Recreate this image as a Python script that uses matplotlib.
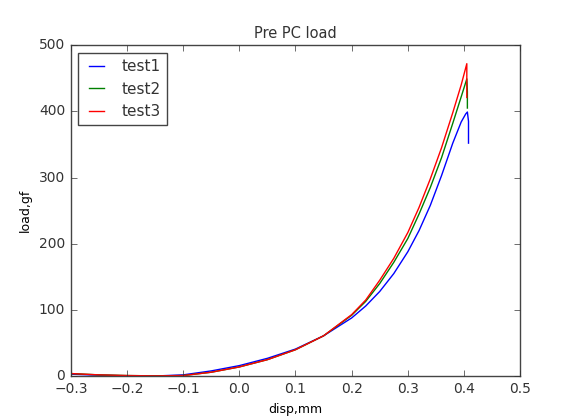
import matplotlib
matplotlib.use('Agg')
import matplotlib.pyplot as plt

# displacement (mm) / load (gf) for the three runs
disp1 = [-0.30, -0.25, -0.20, -0.15, -0.10, -0.05, 0.00, 0.05, 0.10, 0.15, 0.20,
         0.225, 0.25, 0.275, 0.30, 0.32, 0.34, 0.36, 0.38, 0.395, 0.403, 0.406, 0.408, 0.408]
load1 = [3, 1.5, 0.5, 0.3, 2, 8, 16, 27, 41, 61, 88,
         106, 128, 155, 188, 220, 258, 303, 352, 384, 396, 399, 385, 352]

disp2 = [-0.30, -0.25, -0.20, -0.15, -0.10, -0.05, 0.00, 0.05, 0.10, 0.15, 0.20,
         0.225, 0.25, 0.275, 0.30, 0.32, 0.34, 0.36, 0.38, 0.395, 0.405, 0.406, 0.406]
load2 = [4, 2, 1, 0.5, 1, 6, 14, 25, 40, 61, 92,
         113, 140, 172, 208, 245, 285, 330, 382, 422, 449, 430, 405]

disp3 = [-0.30, -0.25, -0.20, -0.15, -0.10, -0.05, 0.00, 0.05, 0.10, 0.15, 0.20,
         0.225, 0.25, 0.275, 0.30, 0.32, 0.34, 0.36, 0.38, 0.395, 0.405, 0.405, 0.405]
load3 = [4, 2, 1, 0.5, 1, 6, 14, 25, 40, 61, 93,
         115, 145, 178, 217, 255, 298, 345, 398, 440, 472, 445, 421]

plt.style.use('classic')
plt.rcParams['text.color'] = '#333333'
plt.rcParams['xtick.color'] = '#333333'
plt.rcParams['ytick.color'] = '#333333'
plt.rcParams['axes.edgecolor'] = '#444444'

fig = plt.figure(figsize=(5.71, 4.18), dpi=100, facecolor='white')
ax = fig.add_axes([0.124, 0.10, 0.787, 0.792])

ax.plot(disp1, load1, 'b', lw=1, label='test1')
ax.plot(disp2, load2, 'g', lw=1, label='test2')
ax.plot(disp3, load3, 'r', lw=1, label='test3')

ax.set_xlim(-0.3, 0.5)
ax.set_ylim(0, 500)
ax.set_xlabel('disp,mm', fontsize=9)
ax.set_ylabel('load,gf', fontsize=9)
ax.set_title('Pre PC load', fontsize=10.5)
ax.tick_params(labelsize=10)
ax.legend(loc='upper left', fontsize=11, handlelength=1.6)

fig.savefig('out.png', dpi=100, facecolor='white')
